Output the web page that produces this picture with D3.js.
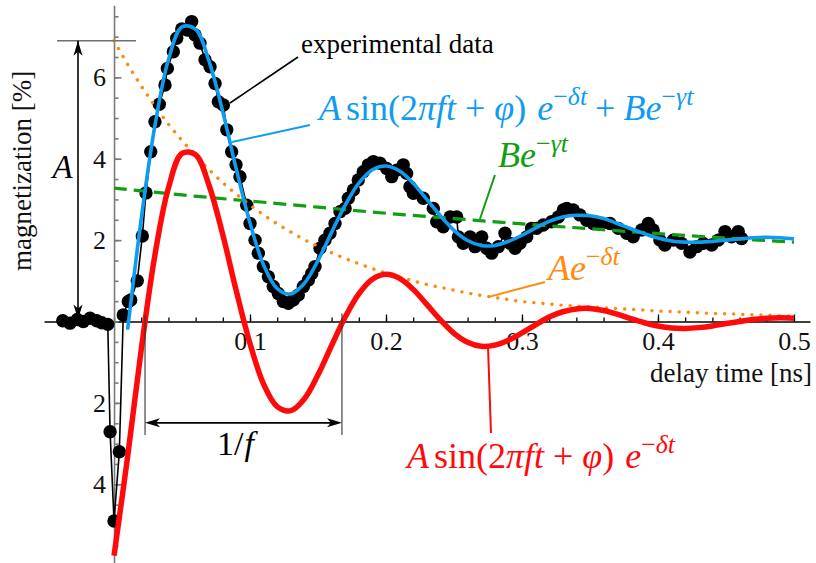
<!DOCTYPE html>
<html>
<head>
<meta charset="utf-8">
<script src="https://cdn.jsdelivr.net/npm/d3@7"></script>
<style>
  body { margin: 0; background: #fff; }
</style>
</head>
<body>
<div id="chart"></div>
<script>
// measured points (delay time in ns, magnetization in %)
var dataT = [-0.0377,-0.0324,-0.0270,-0.0226,-0.0176,-0.0127,-0.0090,-0.0046,-0.0029,0.0000,
    0.0039,0.0068,0.0105,0.0123,0.0171,0.0208,0.0235,0.0270,0.0301,0.0333,
    0.0375,0.0392,0.0436,0.0461,0.0498,0.0539,0.0571,0.0596,0.0632,0.0669,
    0.0706,0.0743,0.0767,0.0804,0.0829,0.0865,0.0897,0.0926,0.0976,0.1000,
    0.1037,0.1061,0.1098,0.1135,0.1171,0.1208,0.1245,0.1282,0.1318,0.1355,
    0.1392,0.1429,0.1454,0.1478,0.1515,0.1551,0.1588,0.1625,0.1662,0.1699,
    0.1723,0.1760,0.1796,0.1833,0.1870,0.1907,0.1956,0.2005,0.2042,0.2079,
    0.2127,0.2152,0.2176,0.2201,0.2274,0.2348,0.2373,0.2421,0.2471,0.2520,
    0.2532,0.2568,0.2618,0.2654,0.2704,0.2740,0.2777,0.2826,0.2875,0.2912,
    0.2949,0.2985,0.3035,0.3071,0.3108,0.3157,0.3218,0.3267,0.3304,0.3329,
    0.3377,0.3426,0.3476,0.3524,0.3586,0.3647,0.3708,0.3770,0.3818,0.3880,
    0.3929,0.3965,0.4015,0.4051,0.4113,0.4174,0.4235,0.4285,0.4333,0.4395,
    0.4443,0.4493,0.4542,0.4590,0.4615];
var dataM = [0.02,-0.04,0.05,0.00,0.08,0.02,-0.03,-0.07,-2.71,-4.90,
    -3.20,0.16,0.49,0.53,1.00,2.10,3.16,4.17,4.91,5.34,
    5.81,6.22,6.63,6.96,7.19,7.16,7.37,7.04,6.84,6.43,
    6.26,5.85,5.40,5.32,4.71,4.17,3.85,3.56,2.86,2.41,
    2.00,1.68,1.35,1.10,0.86,0.69,0.49,0.45,0.53,0.65,
    0.86,1.02,1.18,1.35,1.80,2.00,2.17,2.41,2.70,2.78,
    3.03,3.23,3.48,3.68,3.85,3.93,3.89,3.76,3.56,3.72,
    3.85,3.64,3.31,3.15,3.03,2.78,2.45,2.33,2.57,2.57,
    2.08,1.92,2.08,1.84,2.08,1.80,1.68,1.84,2.17,1.92,
    1.80,1.92,2.08,2.29,2.29,2.37,2.45,2.57,2.74,2.78,
    2.74,2.62,2.49,2.41,2.41,2.41,2.29,2.17,2.08,2.25,
    2.41,2.25,2.00,1.88,2.00,1.92,1.71,1.84,1.92,1.88,
    2.00,2.21,2.08,2.21,2.04];

var fitT = d3.range(51).map(function(i) { return i / 100; });
var dampedSine = [-5.75,-3.32,-0.69,1.62,3.28,4.13,4.10,3.33,2.13,0.74,
    -0.54,-1.54,-2.09,-2.19,-1.90,-1.31,-0.59,0.11,0.68,1.04,
    1.16,1.06,0.79,0.42,0.04,-0.29,-0.51,-0.61,-0.58,-0.46,
    -0.28,-0.08,0.11,0.24,0.31,0.32,0.27,0.18,0.07,-0.03,
    -0.11,-0.16,-0.17,-0.15,-0.11,-0.05,0.00,0.05,0.08,0.09,0.08];
var envelope = [6.90,6.32,5.79,5.30,4.85,4.45,4.07,3.73,3.41,3.13,
    2.86,2.62,2.40,2.20,2.01,1.85,1.69,1.55,1.42,1.30,
    1.19,1.09,1.00,0.91,0.84,0.77,0.70,0.64,0.59,0.54,
    0.49,0.46,0.43,0.40,0.38,0.36,0.34,0.32,0.30,0.28,
    0.26,0.245,0.23,0.215,0.20,0.19,0.18,0.165,0.155,0.145,0.135];
// full fit starts at 0.01 ns
var fullFit = [-0.20,2.52,4.80,6.43,7.24,7.18,6.38,5.15,3.73,2.42,
    1.39,0.81,0.68,0.94,1.50,2.19,2.86,3.40,3.73,3.82,
    3.70,3.40,3.00,2.60,2.24,1.99,1.87,1.87,1.97,2.12,
    2.30,2.46,2.57,2.61,2.60,2.53,2.41,2.28,2.16,2.05,
    1.98,1.95,1.95,1.97,2.00,2.03,2.06,2.07,2.06,2.03];
// slow background, every 0.05 ns
var bgT = [0,0.05,0.10,0.15,0.20,0.25,0.30,0.35,0.40,0.45,0.50];
var background = [3.28,3.11,2.96,2.81,2.66,2.53,2.40,2.28,2.16,2.05,1.95];

var xMajor = [0.1, 0.2, 0.3, 0.4, 0.5];
var yMajor = [-4, -2, 2, 4, 6];
var yLabels = ["4", "2", "2", "4", "6"];

var amplitude = 6.9, period = 0.1448, periodStart = 0.0228;

var width = 816, height = 563;
var serif = "'Liberation Serif'";
var blue = "#0f9cf0", red = "#ff0a0a", green = "#129e12", orange = "#ff8a10";

var svg = d3.select("#chart").append("svg")
    .attr("width", width)
    .attr("height", height)
    .style("display", "block")
    .style("font-family", serif);

var x = d3.scaleLinear().domain([-0.0515, 0.5118]).range([44, 810]);
var y = d3.scaleLinear().domain([-5.98, 7.77]).range([564.9, 5.3]);

function tickText(g) {
    g.selectAll("text").attr("fill", "#111")
        .style("font-family", serif).style("font-size", "26px");
}

// x axis (minor + major ticks pointing up)
svg.append("g")
    .attr("transform", "translate(0," + y(0) + ")")
    .call(d3.axisBottom(x).tickValues(d3.range(0, 0.501, 0.02)).tickSizeInner(-4).tickSizeOuter(0).tickFormat(""))
    .call(function(g) { g.selectAll("path, line").attr("stroke", "#000").attr("stroke-width", 1.3); });

svg.append("g")
    .attr("transform", "translate(0," + y(0) + ")")
    .call(d3.axisBottom(x).tickValues(xMajor).tickSizeInner(-7).tickSizeOuter(0).tickPadding(10).tickFormat(d3.format(".1f")))
    .call(function(g) {
        g.select(".domain").remove();
        g.selectAll("line").attr("stroke", "#000").attr("stroke-width", 1.3);
    })
    .call(tickText);

// y axis (gray, ticks to the right, labels to the left)
svg.append("g")
    .attr("transform", "translate(" + x(0) + ",0)")
    .call(d3.axisRight(y).tickValues(d3.range(-5.5, 7.51, 0.5)).tickSizeInner(4.5).tickSizeOuter(0).tickFormat(""))
    .call(function(g) { g.selectAll("path, line").attr("stroke", "#7a7a7a").attr("stroke-width", 1.6); });

svg.append("g")
    .attr("transform", "translate(" + x(0) + ",0)")
    .call(d3.axisRight(y).tickValues(yMajor).tickSizeInner(7.5).tickSizeOuter(0).tickFormat(""))
    .call(function(g) {
        g.select(".domain").remove();
        g.selectAll("line").attr("stroke", "#7a7a7a").attr("stroke-width", 1.6);
    });

svg.append("g")
    .attr("transform", "translate(" + x(0) + ",0)")
    .call(d3.axisLeft(y).tickValues(yMajor).tickSize(0).tickPadding(8).tickFormat(function(d, i) { return yLabels[i]; }))
    .call(function(g) { g.select(".domain").remove(); })
    .call(tickText);

// axis titles
svg.append("text")
    .attr("x", x(0.5132)).attr("y", y(-1.49))
    .attr("text-anchor", "end")
    .style("font-family", serif).style("font-size", "27px").attr("fill", "#111")
    .text("delay time [ns]");

svg.append("text")
    .attr("transform", "translate(31," + y(3.7) + ") rotate(-90)")
    .attr("text-anchor", "middle")
    .style("font-family", serif).style("font-size", "27px").attr("fill", "#111")
    .text("magnetization [%]");

// experimental data: thin connecting line + dots
var pts = dataT.map(function(t, i) { return [t, dataM[i]]; });
var line = d3.line().x(function(d) { return x(d[0]); }).y(function(d) { return y(d[1]); });

svg.append("path").datum(pts)
    .attr("d", line)
    .attr("fill", "none").attr("stroke", "#000").attr("stroke-width", 1.6);

svg.append("g").selectAll("circle")
    .data(pts)
    .enter().append("circle")
    .attr("cx", function(d) { return x(d[0]); })
    .attr("cy", function(d) { return y(d[1]); })
    .attr("r", 6.7)
    .attr("fill", "#000");

// fitted curves
var smooth = d3.line().curve(d3.curveCatmullRom.alpha(0.5))
    .x(function(d) { return x(d[0]); }).y(function(d) { return y(d[1]); });

svg.append("path")
    .datum(fitT.map(function(t, i) { return [t, envelope[i]]; }))
    .attr("d", smooth)
    .attr("fill", "none").attr("stroke", orange).attr("stroke-width", 3.4)
    .attr("stroke-linecap", "round").attr("stroke-dasharray", "0.1 9");

svg.append("path")
    .datum(bgT.map(function(t, i) { return [t, background[i]]; }))
    .attr("d", smooth)
    .attr("fill", "none").attr("stroke", green).attr("stroke-width", 3.2)
    .attr("stroke-dasharray", "13 7");

svg.append("path")
    .datum(fitT.slice(1).map(function(t, i) { return [t, fullFit[i]]; }))
    .attr("d", smooth)
    .attr("fill", "none").attr("stroke", blue).attr("stroke-width", 3.6);

svg.append("path")
    .datum(fitT.map(function(t, i) { return [t, dampedSine[i]]; }))
    .attr("d", smooth)
    .attr("fill", "none").attr("stroke", red).attr("stroke-width", 5.5);

// helpers for annotations
function seg(t0, v0, t1, v1, color, w) {
    svg.append("line")
        .attr("x1", x(t0)).attr("y1", y(v0))
        .attr("x2", x(t1)).attr("y2", y(v1))
        .attr("stroke", color).attr("stroke-width", w);
}

function arrowHead(t, v, angle) {
    svg.append("path")
        .attr("d", "M0,0L-15,-4.5L-11,0L-15,4.5Z")
        .attr("transform", "translate(" + x(t) + "," + y(v) + ") rotate(" + angle + ")")
        .attr("fill", "#000");
}

// parts: [text, style, dx]; style "i" italic, "s" superscript
function mathText(t, v, parts, color, size) {
    var txt = svg.append("text")
        .attr("x", x(t)).attr("y", y(v))
        .attr("fill", color)
        .style("font-family", serif)
        .style("font-size", size + "px")
        .style("white-space", "pre");
    var raised = false;
    parts.forEach(function(p) {
        var s = txt.append("tspan").text(p[0]);
        var style = p[1] || "";
        var sup = style.indexOf("s") >= 0;
        if (style.indexOf("i") >= 0) s.style("font-style", "italic");
        if (sup) s.style("font-size", (size * 0.72) + "px");
        if (sup && !raised) { s.attr("dy", -size * 0.42); raised = true; }
        if (!sup && raised) { s.attr("dy", size * 0.42); raised = false; }
        if (p[2]) s.attr("dx", p[2]);
    });
}

// amplitude marker
seg(-0.0419, amplitude, 0.0162, amplitude, "#6e6e6e", 1.6);
seg(-0.0265, amplitude, -0.0265, 0.05, "#000", 1.6);
arrowHead(-0.0265, amplitude, -90);
arrowHead(-0.0265, 0.05, 90);
mathText(-0.0452, 3.53, [["A", "i"]], "#000", 33);

// period marker
seg(periodStart, 0.16, periodStart, -2.79, "#333", 1.1);
seg(periodStart + period, 0.2, periodStart + period, -2.79, "#333", 1.1);
seg(periodStart + 0.004, -2.49, periodStart + period - 0.004, -2.49, "#000", 1.6);
arrowHead(periodStart, -2.49, 180);
arrowHead(periodStart + period, -2.49, 0);
mathText(0.0757, -3.28, [["1/", ""], ["f", "i", 1]], "#000", 34);

// labels with leader lines
seg(0.0853, 5.37, 0.1353, 6.50, "#000", 1.6);
svg.append("text")
    .attr("x", x(0.1375)).attr("y", y(6.60))
    .style("font-family", serif).style("font-size", "27px").attr("fill", "#000")
    .text("experimental data");

seg(0.0868, 4.41, 0.1441, 4.83, blue, 2);
mathText(0.1507, 4.95, [["A", "i"], ["sin(2", "", 5], ["\u03c0ft", "i"], ["+", "", 9], ["\u03c6", "i", 9],
    [")", ""], ["e", "i", 11], ["\u2212", "s"], ["\u03b4t", "si"], ["+", "", 8], ["Be", "i", 8],
    ["\u2212", "s"], ["\u03b3t", "si"]], blue, 36);

seg(0.2691, 2.52, 0.2801, 3.60, green, 2);
mathText(0.2824, 3.80, [["Be", "i"], ["\u2212", "s"], ["\u03b3t", "si"]], green, 36);

seg(0.2750, 0.60, 0.3169, 0.97, orange, 2);
mathText(0.3191, 1.02, [["Ae", "i"], ["\u2212", "s"], ["\u03b4t", "si"]], orange, 36);

seg(0.2750, -0.60, 0.2772, -2.74, red, 2);
mathText(0.2154, -3.60, [["A", "i"], ["sin(2", "", 5], ["\u03c0ft", "i"], ["+", "", 9], ["\u03c6", "i", 9],
    [")", ""], ["e", "i", 11], ["\u2212", "s"], ["\u03b4t", "si"]], red, 36);
</script>
</body>
</html>
